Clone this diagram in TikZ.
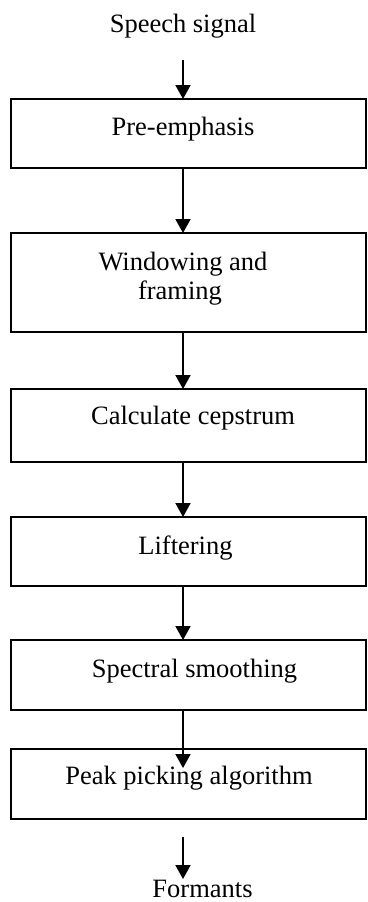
\documentclass[tikz,border=0pt]{standalone}
\usepackage{fontspec}
\setmainfont{Liberation Serif}
\usetikzlibrary{arrows.meta}
\begin{document}
\begin{tikzpicture}[x=1pt,y=-1pt,
  box/.style={draw=black, line width=2.2pt, rectangle, minimum width=355pt, inner sep=0pt, outer sep=0pt},
  lbl/.style={anchor=base, inner sep=0pt, font=\fontsize{26.5}{31}\selectfont, align=center},
  arr/.style={line width=2pt, -{Triangle[width=15pt,length=14pt]}}]
\useasboundingbox (0,0) rectangle (367,902);
\fill[white] (0,0) rectangle (367,902);
% boxes
\node[box, minimum height=69pt] (b1) at (188.5,133.5) {};
\node[box, minimum height=99pt] (b2) at (188.5,282.5) {};
\node[box, minimum height=73pt] (b3) at (188.5,425.5) {};
\node[box, minimum height=69pt] (b4) at (188.5,551.5) {};
\node[box, minimum height=70pt] (b5) at (188.5,675) {};
\node[box, minimum height=70pt] (b6) at (188.5,784) {};
% texts
\node[lbl] (s) at (183,32) {Speech signal};
\node[lbl] (t1) at (183,135) {Pre-emphasis};
\node[lbl] (t2a) at (183,270) {Windowing and};
\node[lbl] (t2b) at (180,299) {framing};
\node[lbl] (t3) at (193,424) {Calculate cepstrum};
\node[lbl] (t4) at (185.5,554) {Liftering};
\node[lbl] (t5) at (194.5,677) {Spectral smoothing};
\node[lbl] (t6) at (189,784) {Peak picking algorithm};
\node[lbl] (f) at (202.5,897) {Formants};
% connector ends
\coordinate (s0) at (183,60);
\coordinate (b6in) at (183,768);
\coordinate (fin) at (183,879);
% arrows
\draw[arr] (s0) -- (b1.north -| s0);
\draw[arr] (b1.south -| s0) -- (b2.north -| s0);
\draw[arr] (b2.south -| s0) -- (b3.north -| s0);
\draw[arr] (b3.south -| s0) -- (b4.north -| s0);
\draw[arr] (b4.south -| s0) -- (b5.north -| s0);
\draw[arr] (b5.south -| s0) -- (b6in);
\draw[arr, shorten <=18pt] (b6.south -| s0) -- (fin);
\end{tikzpicture}
\end{document}
